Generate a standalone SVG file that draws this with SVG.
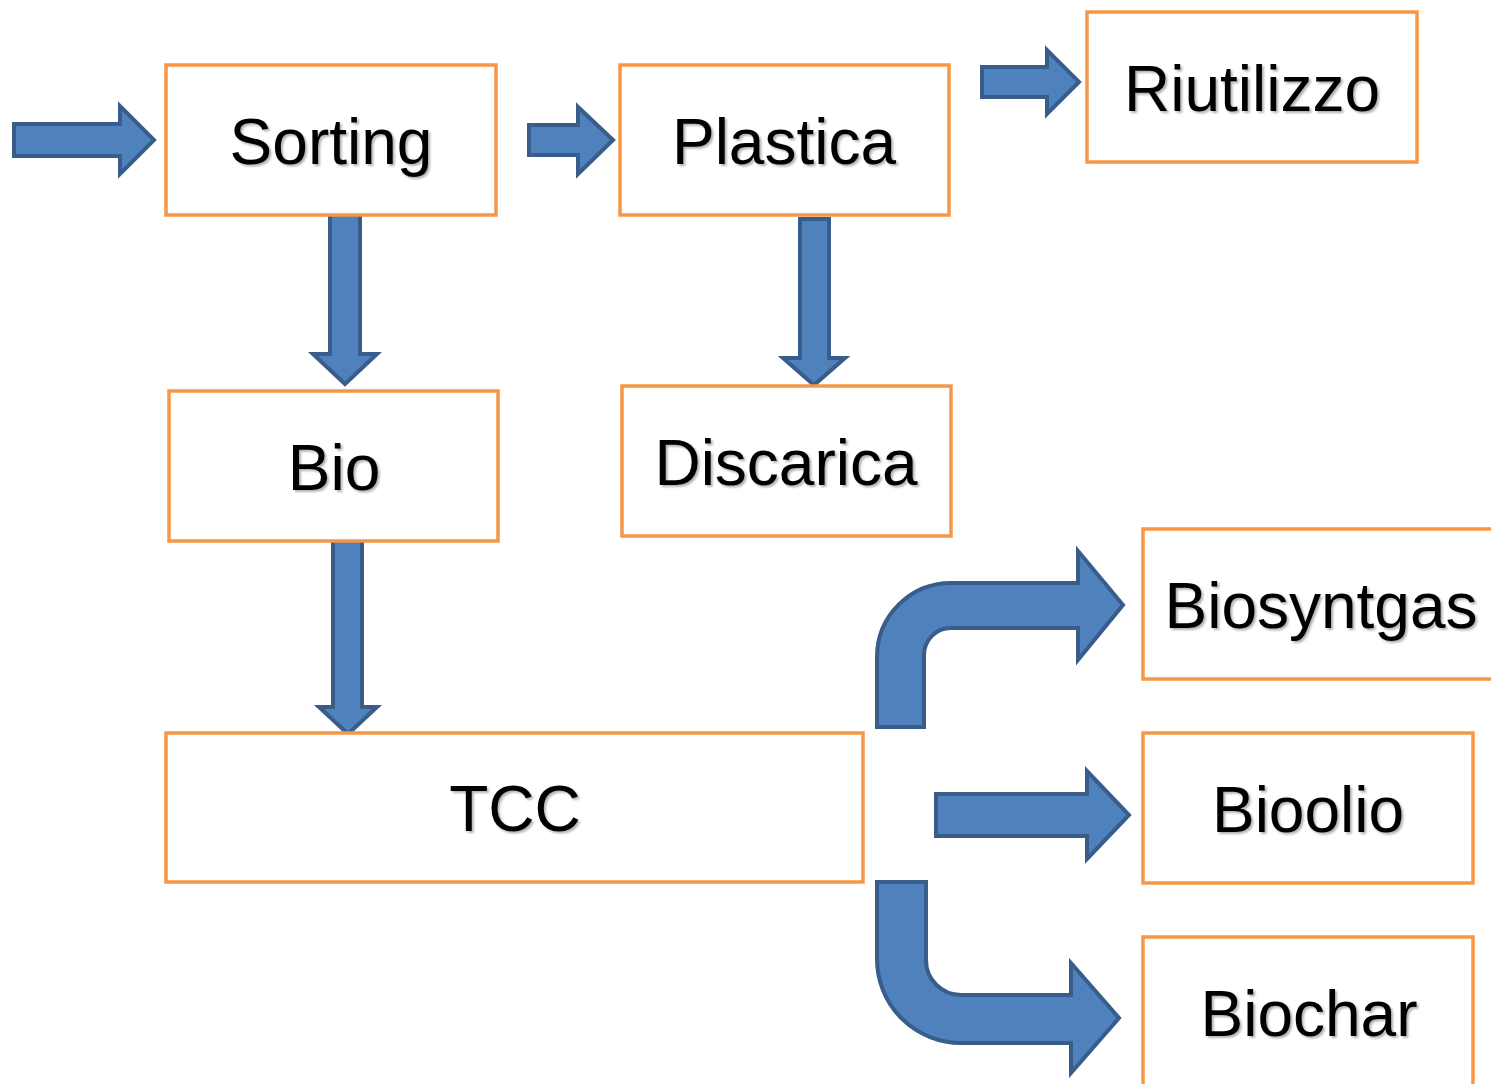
<svg xmlns="http://www.w3.org/2000/svg" width="1491" height="1084" viewBox="0 0 1491 1084">
<defs>
<filter id="sh" x="-10%" y="-10%" width="120%" height="130%">
<feDropShadow dx="2" dy="2" stdDeviation="1" flood-color="#000" flood-opacity="0.3"/>
</filter>
</defs>
<style>
.box{fill:#fff;stroke:#F79646;stroke-width:3.5}
.lbl{font-family:"Liberation Sans",Arial,sans-serif;font-size:64px;fill:#000;text-anchor:middle;filter:url(#sh)}
.arr{fill:#4F81BD;stroke:#385D8A;stroke-width:4;stroke-linejoin:miter}
</style>
<rect width="1491" height="1084" fill="#fff"/>
<g id="connectors">
<path class="arr" d="M14,124 L120,124 L120,106 L154,140 L120,174 L120,156 L14,156 Z"/>
<path class="arr" d="M529,125 L578,125 L578,107 L613,140 L578,174 L578,155 L529,155 Z"/>
<path class="arr" d="M982,67 L1047,67 L1047,50 L1079,82 L1047,114 L1047,97 L982,97 Z"/>
<path class="arr" d="M330,214 L360,214 L360,354 L377,354 L345,384 L313,354 L330,354 Z"/>
<path class="arr" d="M800,219 L829,219 L829,358 L845,358 L814,385 L783,358 L800,358 Z"/>
<path class="arr" d="M333,540 L362,540 L362,707 L377,707 L348,734 L319,707 L333,707 Z"/>
<path class="arr" d="M877,727 L877,657 A74,74 0 0 1 951,583 L1078,583 L1078,551 L1123,605 L1078,660 L1078,628 L951,628 A27,27 0 0 0 924,655 L924,727 Z"/>
<path class="arr" d="M936,794 L1087,794 L1087,771 L1129,815 L1087,859 L1087,836 L936,836 Z"/>
<path class="arr" d="M877,882 L926,882 L926,960 A35,35 0 0 0 961,995 L1071,995 L1071,963 L1119,1018 L1071,1073 L1071,1043 L961,1043 A84,84 0 0 1 877,959 Z"/>
</g>
<g id="node-sorting"><rect class="box" x="166" y="65" width="330" height="150"/><text class="lbl" x="331" y="164">Sorting</text></g>
<g id="node-plastica"><rect class="box" x="620" y="65" width="329" height="150"/><text class="lbl" x="784" y="164">Plastica</text></g>
<g id="node-riutilizzo"><rect class="box" x="1087" y="12" width="330" height="150"/><text class="lbl" x="1252" y="111">Riutilizzo</text></g>
<g id="node-bio"><rect class="box" x="169" y="391" width="329" height="150"/><text class="lbl" x="334" y="490">Bio</text></g>
<g id="node-discarica"><rect class="box" x="622" y="386" width="329" height="150"/><text class="lbl" x="786" y="485">Discarica</text></g>
<g id="node-tcc"><rect class="box" x="166" y="733" width="697" height="149"/><text class="lbl" x="515" y="831">TCC</text></g>
<g id="node-biosyntgas"><rect class="box" x="1143" y="529" width="360" height="150"/><text class="lbl" x="1321" y="628">Biosyntgas</text></g>
<g id="node-bioolio"><rect class="box" x="1143" y="733" width="330" height="150"/><text class="lbl" x="1308" y="832">Bioolio</text></g>
<g id="node-biochar"><rect class="box" x="1143" y="937" width="330" height="160"/><text class="lbl" x="1309" y="1036">Biochar</text></g>
</svg>
